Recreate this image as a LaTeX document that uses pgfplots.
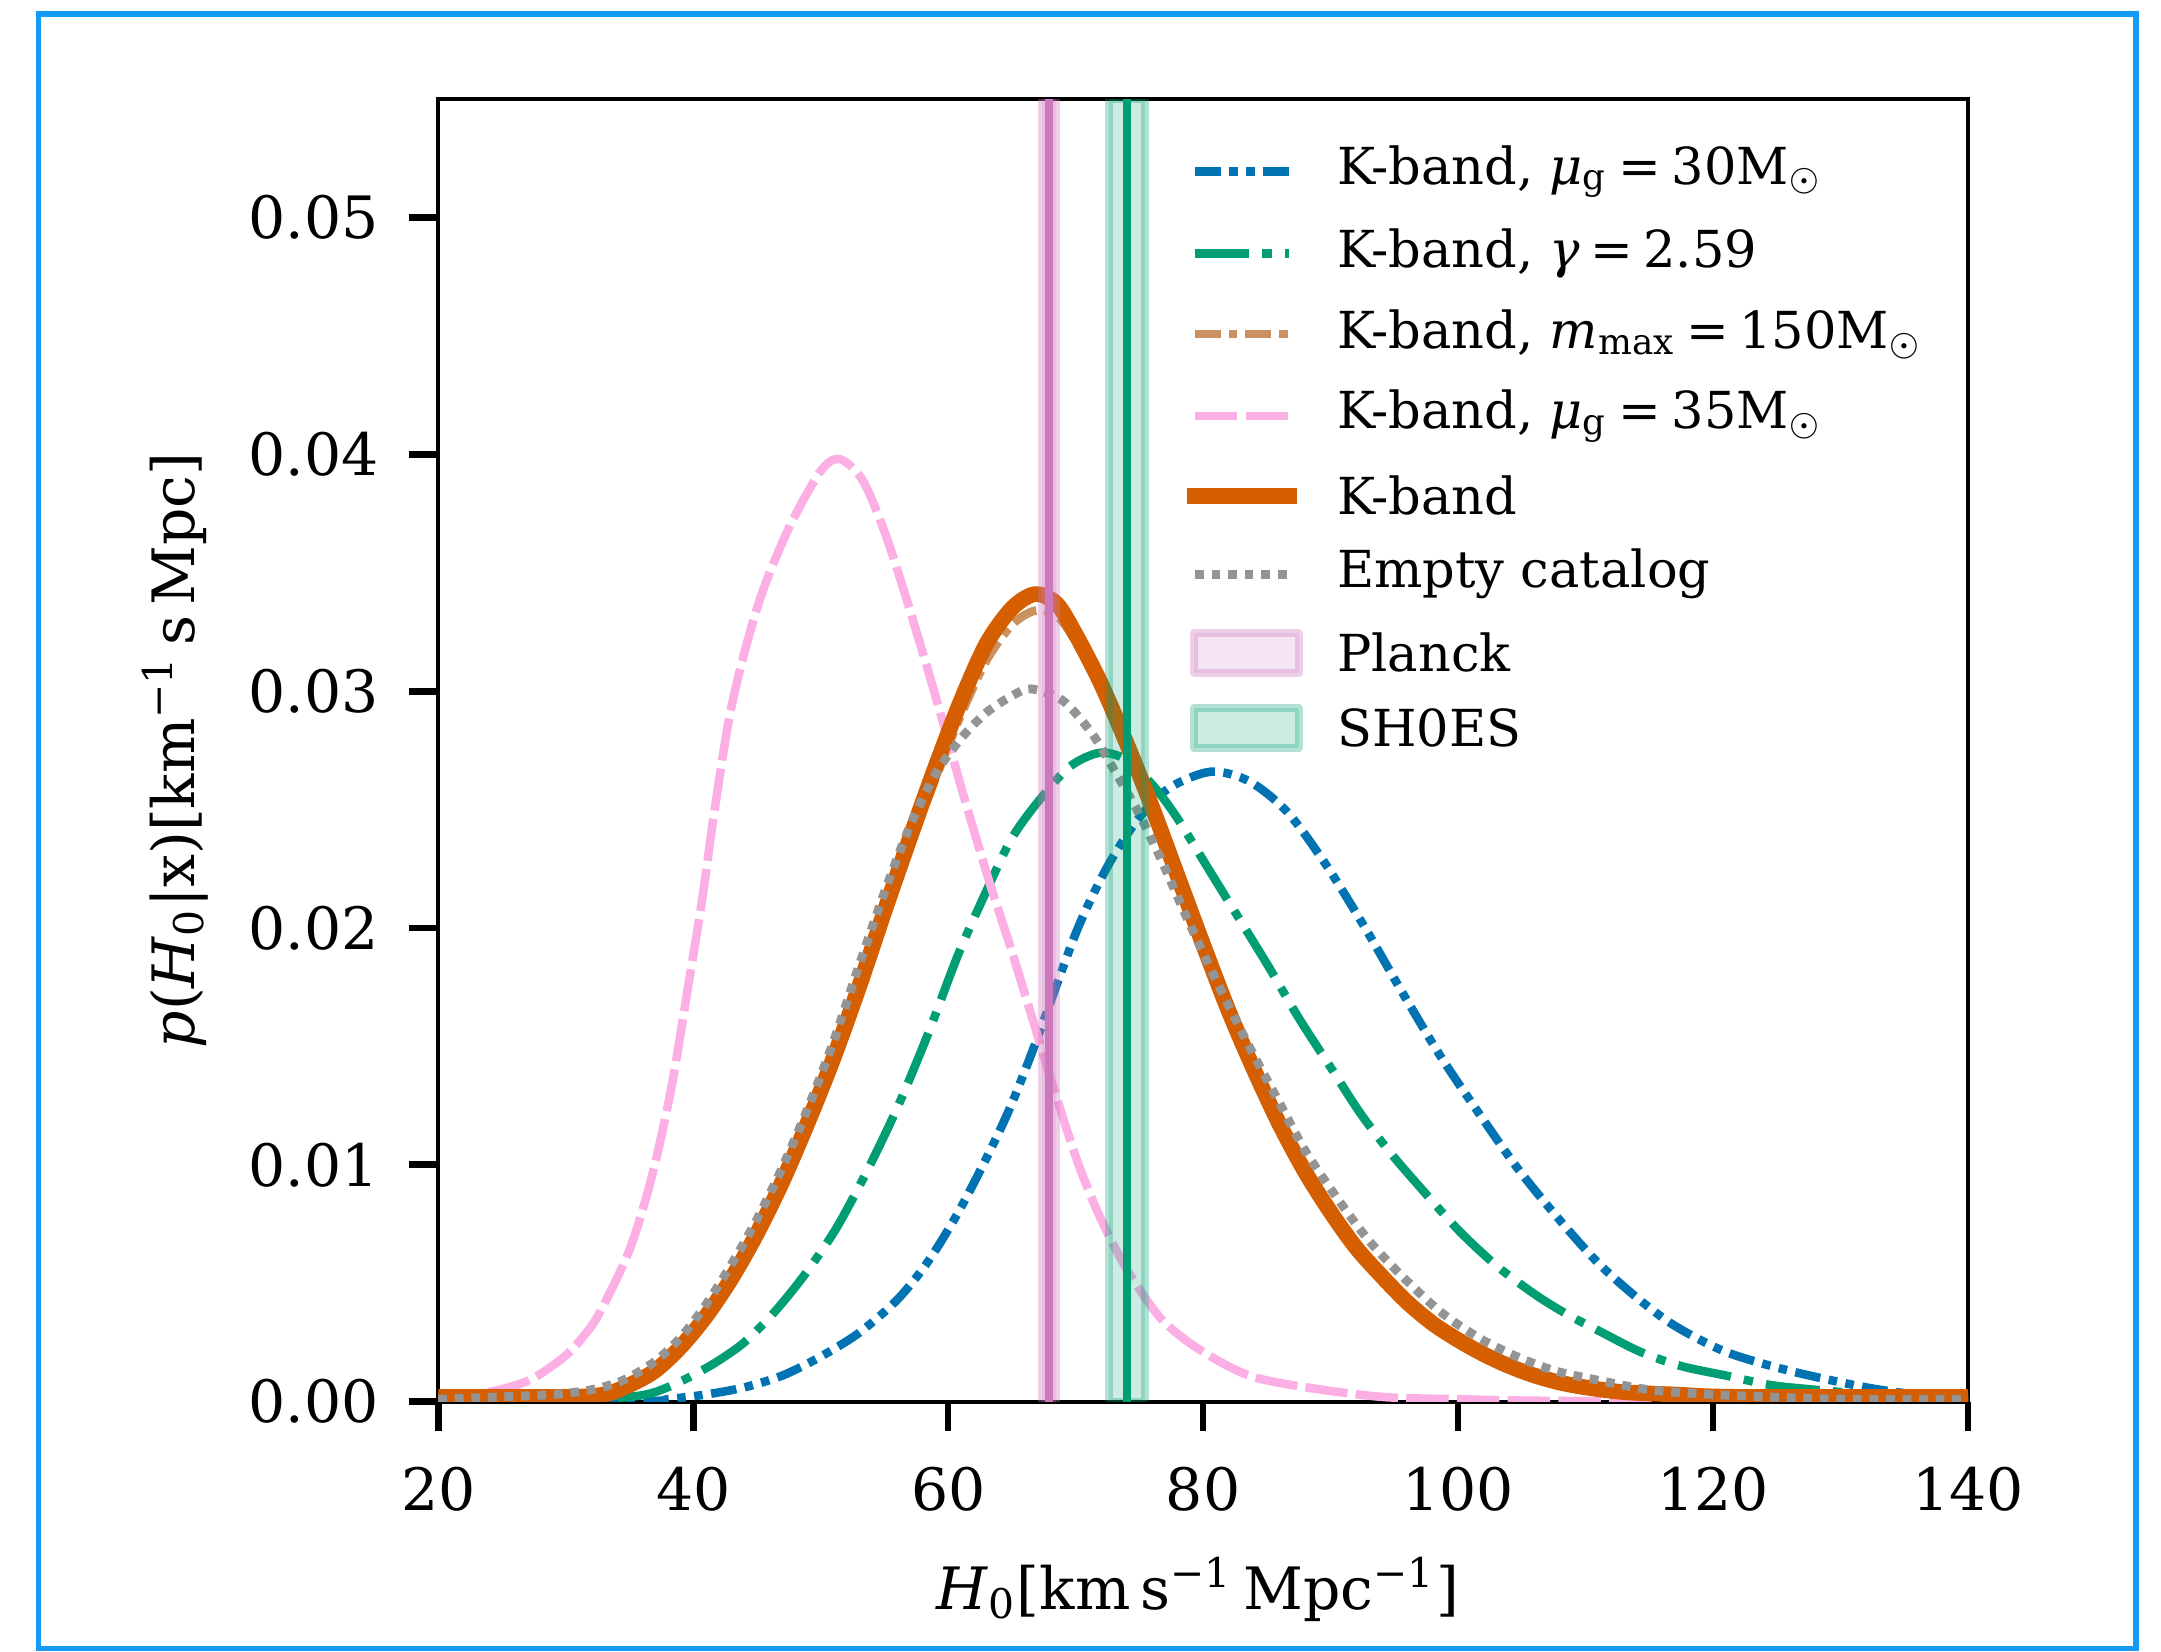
\documentclass[border=0pt]{standalone}
\usepackage{fontspec}
\setmainfont{DejaVu Serif}
\usepackage{pgfplots}
\pgfplotsset{compat=1.18}
\definecolor{cb}{HTML}{0173B2}
\definecolor{cg}{HTML}{029E73}
\definecolor{ct}{HTML}{CA9161}
\definecolor{cp}{HTML}{FBAFE4}
\definecolor{co}{HTML}{D55E00}
\definecolor{cgr}{HTML}{949494}
\definecolor{cpl}{HTML}{CC78BC}
\definecolor{frameblue}{RGB}{20,155,245}
\newcommand{\msun}{M$_{\odot}$}
\newcommand{\legbb}{\pgfpathrectangle{\pgfpoint{0pt}{-4pt}}{\pgfpoint{17pt}{8pt}}\pgfusepath{use as bounding box}}
\pgfplotsset{
  mybandleg/.style={legend image code/.code={\legbb \draw[##1] (-0.2pt,-3.6pt) rectangle (18.9pt,3.6pt);}},
  mylineleg/.style={legend image code/.code={\legbb \draw[##1] (0pt,0pt) -- (17pt,0pt);}},
}
\begin{document}
\begin{tikzpicture}[font=\fontsize{10.6}{12.7}\selectfont]
\path[use as bounding box] (-79.5pt,-45.25pt) rectangle (312.5pt,254.25pt);
\draw[frameblue, line width=1pt] (-72.5pt,-44.75pt) rectangle (308pt,251.75pt);
\begin{axis}[
  at={(0pt,0pt)}, anchor=south west,
  scale only axis, width=277.5pt, height=236.25pt,
  xmin=20, xmax=140, ymin=0, ymax=0.055,
  xtick={20,40,60,80,100,120,140},
  ytick={0,0.01,0.02,0.03,0.04,0.05},
  scaled y ticks=false,
  y tick label style={/pgf/number format/fixed, /pgf/number format/fixed zerofill, /pgf/number format/precision=2, xshift=-2pt},
  x tick label style={yshift=-3pt},
  /pgf/number format/assume math mode=true,
  tick align=outside, xtick pos=left, ytick pos=left,
  major tick length=5.3pt,
  tick style={line width=1.2pt, black},
  axis line style={line width=0.7pt},
  xlabel={\textit{H}\textsubscript{0}[km\kern0.17em s\textsuperscript{−1}\kern0.17em Mpc\textsuperscript{−1}]},
  ylabel={\textit{p}(\textit{H}\textsubscript{0}|x)[km\textsuperscript{−1}\kern0.17em s\kern0.17em Mpc]},
  xlabel style={at={(axis description cs:0.4964,-0.1593)}, anchor=base},
  ylabel style={at={(axis description cs:-0.1596,0.5)}, anchor=base},
  legend cell align=left,
  legend style={at={(axis description cs:0.4947,1)}, anchor=north west, yshift=-8.35pt,
    draw=none, fill=none, inner sep=0pt, outer sep=0pt, row sep=5.7pt, column sep=8.8pt,
    nodes={inner sep=0pt, text depth=, font=\fontsize{9.25}{11}\selectfont}},
  mylineleg,
  every axis plot/.append style={line join=round, smooth},
]
% K-band, mu_g = 30
\addplot[cb, line width=1.55pt, dash pattern=on 4.65pt off 1.55pt on 1.55pt off 1.55pt on 1.55pt off 1.55pt] coordinates {
(20,0) (36,0.00002) (38,0.0001) (41,0.0003) (44,0.0006) (47,0.0011) (50,0.0019) (53,0.0029) (56,0.0043) (58.4,0.0059) (60.8,0.0080) (63.2,0.0105) (65,0.0126) (67.1,0.0155) (70.1,0.0199) (72.5,0.0226) (74.9,0.0246) (77.3,0.0259) (80.6,0.0266) (83.6,0.0262) (86.6,0.0249) (89.6,0.0227) (92.6,0.0201) (95.6,0.0173) (98.6,0.0146) (101.6,0.0122) (104.6,0.0099) (107.6,0.0079) (110.9,0.0059) (114,0.0044) (117,0.0032) (121,0.0021) (126,0.0013) (132,0.0006) (136,0.0003) (140,0.0002)};
\addlegendentry{K-band, \textit{μ}\textsubscript{g}\kern0.2em=\kern0.2em30\msun}
% K-band, gamma
\addplot[cg, line width=1.55pt, dash pattern=on 9.8pt off 2.4pt on 1.7pt off 2.4pt] coordinates {
(20,0) (30,0.00002) (35,0.0002) (37,0.0004) (39.2,0.0009) (41.6,0.0016) (44,0.0025) (46.4,0.0038) (48.8,0.0054) (51.2,0.0073) (53.6,0.0097) (56,0.0124) (58.4,0.0155) (60.8,0.0189) (63.2,0.0218) (65,0.0238) (67,0.0253) (69.5,0.0268) (71.9,0.0274) (74,0.0271) (76.1,0.0260) (77.9,0.0247) (80.3,0.0226) (82.7,0.0205) (85.1,0.0184) (87.5,0.0162) (89.9,0.0142) (92.3,0.0122) (94.7,0.0105) (97.1,0.0090) (100.1,0.0072) (103.1,0.0057) (106.1,0.0045) (108.5,0.0037) (111,0.0030) (114.3,0.0021) (117.5,0.0015) (121,0.0011) (124.5,0.0007) (128,0.0005) (134.7,0.0002) (140,0.0001)};
\addlegendentry{K-band, \textit{γ}\kern0.2em=\kern0.2em2.59}
% K-band, m_max
\addplot[ct, line width=1.55pt, dash pattern=on 4.65pt off 1.5pt on 1.5pt off 1.5pt] coordinates {
(20,0.0002) (30,0.0002) (33,0.0003) (35,0.0007) (37,0.0013) (39,0.0023) (41,0.0036) (43,0.0052) (45,0.0071) (47,0.0093) (49,0.0118) (51,0.0145) (53,0.0175) (55,0.0206) (57,0.0235) (59,0.0263) (61,0.0290) (63,0.0313) (65,0.0328) (66.8,0.0334) (68.5,0.0332) (70,0.0321) (72,0.0301) (74,0.0277) (76,0.0251) (78,0.0222) (80,0.0193) (82,0.0165) (84,0.0140) (86,0.0117) (88,0.0097) (90,0.0080) (92,0.0065) (94,0.0053) (96,0.0042) (98,0.0033) (100,0.0026) (102,0.0020) (104,0.0015) (106,0.0011) (108,0.0008) (110,0.0006) (113,0.0004) (117,0.0003) (122,0.0002) (140,0.0002)};
\addlegendentry{K-band, \textit{m}\textsubscript{max}\kern0.2em=\kern0.2em150\msun}
% K-band, mu_g = 35
\addplot[cp, line width=1.55pt, dash pattern=on 7.7pt off 1.5pt] coordinates {
(20,0.0001) (23,0.0003) (25.5,0.0006) (27.5,0.0010) (29.9,0.0019) (31.3,0.0027) (32.6,0.0037) (35,0.0064) (36.8,0.0096) (38.3,0.0133) (39.5,0.0172) (40.7,0.0212) (41.6,0.0247) (42.8,0.0288) (44,0.0316) (45.5,0.0343) (47.6,0.0370) (50,0.0393) (51.5,0.0398) (53.3,0.0389) (55.1,0.0366) (56.9,0.0336) (59,0.0298) (61.1,0.0258) (63.2,0.0220) (65,0.0190) (67.1,0.0153) (68,0.0137) (70.1,0.0102) (71.9,0.0078) (74,0.0056) (76.7,0.0035) (79.7,0.0022) (83.6,0.0011) (88.1,0.0006) (94,0.0002) (100,0.0001) (110,0.00002) (140,0)};
\addlegendentry{K-band, \textit{μ}\textsubscript{g}\kern0.2em=\kern0.2em35\msun}
% K-band
\addplot[co, line width=2.84pt, line cap=rect] coordinates {
(20,0.0002) (30,0.0002) (33,0.0003) (35,0.0007) (37,0.0013) (39,0.0023) (41,0.0036) (43,0.0052) (45,0.0071) (47,0.0093) (49,0.0118) (51,0.0145) (53,0.0175) (55,0.0207) (57,0.0238) (59,0.0268) (61,0.0296) (63,0.0320) (65,0.0335) (66.8,0.0341) (68.5,0.0337) (70,0.0324) (72,0.0303) (74,0.0278) (76,0.0251) (78,0.0222) (80,0.0193) (82,0.0165) (84,0.0140) (86,0.0117) (88,0.0097) (90,0.0080) (92,0.0065) (94,0.0053) (96,0.0042) (98,0.0033) (100,0.0026) (102,0.0020) (104,0.0015) (106,0.0011) (108,0.0008) (110,0.0006) (113,0.0004) (117,0.0003) (122,0.0002) (140,0.0002)};
\addlegendentry{K-band}
% Empty catalog
\addplot[cgr, line width=1.6pt, dash pattern=on 1.6pt off 1.4pt] coordinates {
(20,0.0001) (25,0.0002) (29,0.0003) (32,0.0005) (34.5,0.0009) (37,0.0017) (39,0.0027) (41,0.0041) (43,0.0058) (45,0.0077) (47,0.0099) (49,0.0124) (51,0.0152) (53,0.0184) (55,0.0215) (57,0.0243) (59,0.0265) (61,0.0280) (63,0.0291) (65,0.0298) (66.5,0.0301) (69,0.0296) (71.3,0.0282) (73.1,0.0266) (74.9,0.0249) (76.7,0.0229) (78.5,0.0207) (80.3,0.0186) (82.1,0.0166) (84,0.0146) (86,0.0126) (88,0.0106) (90.5,0.0086) (93,0.0068) (95.6,0.0053) (98.6,0.0038) (101.6,0.0027) (104.6,0.0019) (107.6,0.0013) (111,0.0009) (115,0.0005) (120,0.0003) (130,0.0001) (140,0.0001)};
\addlegendentry{Empty catalog}
% Planck
\addplot[fill=cpl, fill opacity=0.2, draw=cpl, draw opacity=0.35, line width=1.45pt, sharp plot, mybandleg]
  coordinates {(67.35,0) (67.35,0.055) (68.45,0.055) (68.45,0)} \closedcycle;
\addlegendentry{Planck}
\addplot[cpl, line width=1.5pt, sharp plot, forget plot] coordinates {(67.9,0) (67.9,0.055)};
% SH0ES
\addplot[fill=cg, fill opacity=0.2, draw=cg, draw opacity=0.3, line width=1.45pt, sharp plot, mybandleg]
  coordinates {(72.61,0) (72.61,0.055) (75.45,0.055) (75.45,0)} \closedcycle;
\addlegendentry{SH0ES}
\addplot[cg, line width=1.5pt, sharp plot, forget plot] coordinates {(74.03,0) (74.03,0.055)};
\end{axis}
\end{tikzpicture}
\end{document}
